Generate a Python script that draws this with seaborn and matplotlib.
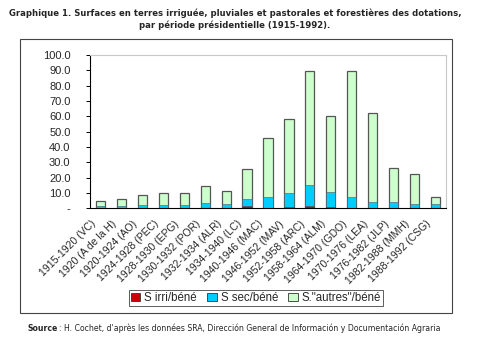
import matplotlib
matplotlib.use("Agg")
import matplotlib.pyplot as plt
import matplotlib.patches as mpatches
import matplotlib.ticker as mticker
import matplotlib.transforms as mtransforms
import numpy as np
import pandas as pd
import seaborn as sns

# Presidential periods (1915-1992)
periods = ["1915-1920 (VC)", "1920 (A de la H)", "1920-1924 (AO)", "1924-1928 (PEC)",
           "1928-1930 (EPG)", "1930-1932 (POR)", "1932-1934 (ALR)", "1934-1940 (LC)",
           "1940-1946 (MAC)", "1946-1952 (MAV)", "1952-1958 (ARC)", "1958-1964 (ALM)",
           "1964-1970 (GDO)", "1970-1976 (LEA)", "1976-1982 (JLP)", "1982-1988 (MMH)",
           "1988-1992 (CSG)"]

# Surface per beneficiary, by land type
s_irri = [0.0, 0.0, 0.0, 0.0, 0.0, 0.0, 0.0, 1.2, 0.0, 0.9, 1.6, 0.6, 0.0, 0.0, 0.0, 0.0, 0.0]
s_sec = [1.1, 1.5, 2.2, 2.2, 2.2, 3.1, 2.6, 4.7, 7.0, 9.1, 13.2, 9.9, 7.2, 3.9, 3.9, 2.9, 2.4]
s_autres = [3.3, 4.4, 6.3, 7.6, 7.6, 11.5, 8.8, 19.8, 39.0, 48.4, 74.5, 49.6, 82.1, 58.4, 22.5, 19.6, 4.8]

series_labels = ["S irri/béné", "S sec/béné", "S.\"autres\"/béné"]
colors = ["#CC0000", "#00CCFF", "#CCFFCC"]
y_ticks = [0, 10, 20, 30, 40, 50, 60, 70, 80, 90, 100]

df = pd.DataFrame({"periode": periods, "irri": s_irri, "sec": s_sec, "autres": s_autres})
df["c_irri"] = df["irri"]
df["c_sec"] = df["irri"] + df["sec"]
df["c_autres"] = df["c_sec"] + df["autres"]

sns.set_style("white")
plt.rcParams["font.family"] = ["Liberation Sans", "DejaVu Sans"]

fig = plt.figure(figsize=(5.0, 3.39), dpi=100)
fig.patch.set_facecolor("white")

# outer frame around chart
frame = mpatches.Rectangle((0.04, 0.077), 0.864, 0.808, transform=fig.transFigure,
                           fill=False, edgecolor="#444444", linewidth=0.8)
fig.patches.append(frame)

ax = fig.add_axes([0.18, 0.386, 0.712, 0.452])

edge = "#555555"
for col, c in zip(["c_autres", "c_sec", "c_irri"], [colors[2], colors[1], colors[0]]):
    sns.barplot(data=df, x="periode", y=col, color=c, width=0.44, edgecolor=edge,
                linewidth=0.9 if col == "c_autres" else 0.4, saturation=1, ax=ax,
                errorbar=None)

ax.set_xlim(-0.5, len(periods) - 0.5)
ax.set_ylim(0, 100)
ax.set_yticks(y_ticks)
ax.yaxis.set_major_formatter(mticker.FuncFormatter(lambda v, p: "-" if v == 0 else f"{v:.1f}"))
ax.set_xlabel("")
ax.set_ylabel("")

ax.set_xticks(range(len(periods)))
ax.set_xticklabels(periods, rotation=45, ha="right", rotation_mode="anchor", fontsize=7.5)
ax.tick_params(axis="x", which="major", length=0, pad=4)
ax.set_xticks(np.arange(-0.5, len(periods), 1.0), minor=True)
ax.tick_params(axis="x", which="minor", length=3, width=0.7, color="black", direction="out")
ax.tick_params(axis="y", length=3, width=0.7, color="black", direction="out", labelsize=8,
               pad=11, left=True)

# shift rotated period labels down and to the left of their bars
shift = mtransforms.ScaledTranslation(-10 / 100, -5 / 100, fig.dpi_scale_trans)
for lbl in ax.get_xticklabels():
    lbl.set_transform(lbl.get_transform() + shift)

for side in ["left", "bottom"]:
    ax.spines[side].set_color("black")
    ax.spines[side].set_linewidth(0.8)
for side in ["top", "right"]:
    ax.spines[side].set_color("#C8C8C8")
    ax.spines[side].set_linewidth(0.8)

handles = [mpatches.Patch(facecolor=c, edgecolor="#333333", linewidth=0.6) for c in colors]
leg = fig.legend(handles, series_labels, loc="center", bbox_to_anchor=(0.512, 0.121), ncol=3,
                 fontsize=8.3, frameon=True, fancybox=False, handlelength=0.8,
                 handleheight=0.8, handletextpad=0.35, columnspacing=0.9, borderpad=0.2,
                 borderaxespad=0)
leg.get_frame().set_edgecolor("#333333")
leg.get_frame().set_linewidth(0.7)

fig.text(0.47, 0.962, "Graphique 1. Surfaces en terres irriguée, pluviales et pastorales et forestières des dotations,",
         ha="center", va="center", fontsize=6.15, fontweight="bold", family=["DejaVu Sans"])
fig.text(0.47, 0.926, "par période présidentielle (1915-1992).",
         ha="center", va="center", fontsize=6.15, fontweight="bold", family=["DejaVu Sans"])

fig.text(0.054, 0.032, "Source", ha="left", va="center", fontsize=5.6, fontweight="bold",
         family=["DejaVu Sans"])
fig.text(0.118, 0.032, ": H. Cochet, d'après les données SRA, Dirección General de Información y Documentación Agraria",
         ha="left", va="center", fontsize=5.6, family=["DejaVu Sans"])

fig.savefig("out.png", dpi=100, facecolor="white")
